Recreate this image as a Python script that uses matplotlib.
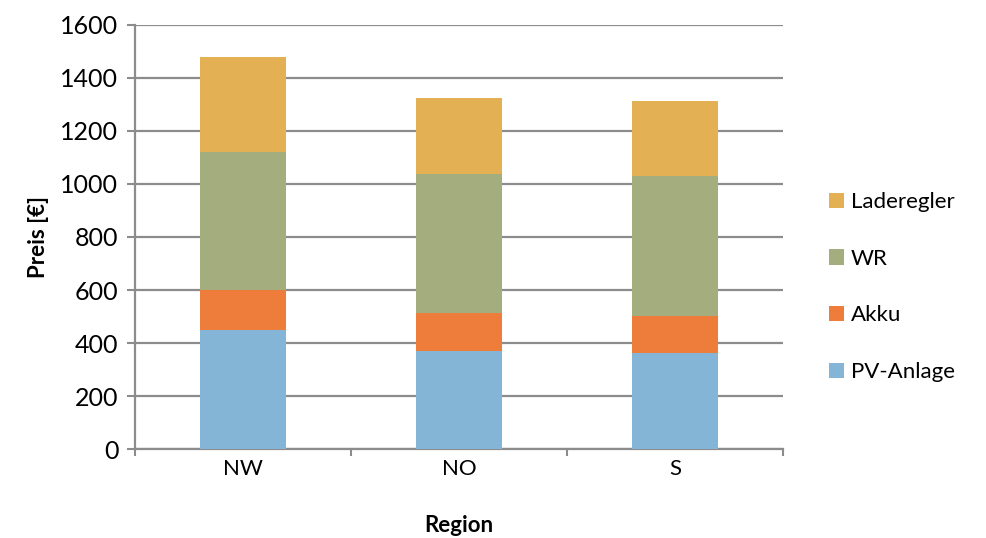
import numpy as np
import matplotlib.pyplot as plt

# Daten
regionen = ['NW', 'NO', 'S']
pv_anlage = [450, 369, 361]
akku = [151, 144, 143]
wr = [521, 526, 527]
laderegler = [355, 284, 280]

plt.rcParams['font.family'] = ['Lato', 'DejaVu Sans']

fig = plt.figure(figsize=(9.86, 5.38), dpi=100)
ax = fig.add_axes([0.137, 0.165, 0.657, 0.789])

x = np.arange(len(regionen))
breite = 0.4
serien = [('PV-Anlage', pv_anlage, '#84B5D6'),
          ('Akku', akku, '#EE7D3C'),
          ('WR', wr, '#A3AD7E'),
          ('Laderegler', laderegler, '#E3B154')]

unten = np.zeros(len(regionen))
for name, werte, farbe in serien:
    ax.bar(x, werte, breite, bottom=unten, color=farbe, label=name, zorder=3)
    unten = unten + np.array(werte)

ax.set_ylim(0, 1600)
ax.set_xlim(-0.5, 2.5)
ax.set_yticks(range(0, 1601, 200))
ax.set_xticks(x)
ax.set_xticklabels(regionen)
ax.set_xticks([-0.5, 0.5, 1.5, 2.5], minor=True)
ax.tick_params(axis='x', which='major', length=0, labelsize=16, pad=7)
ax.tick_params(axis='x', which='minor', length=5, width=1.5, color='#8c8c8c', direction='out')
ax.tick_params(axis='y', length=6, width=1.5, color='#8c8c8c', labelsize=18, pad=6)

ax.yaxis.grid(True, color='#8c8c8c', linewidth=1.6, zorder=0)
ax.set_axisbelow(True)
for s in ['top', 'right']:
    ax.spines[s].set_visible(False)
for s in ['left', 'bottom']:
    ax.spines[s].set_color('#8c8c8c')
    ax.spines[s].set_linewidth(1.6)

ax.set_ylabel('Preis [€]', fontsize=16, fontweight='bold', labelpad=8)
ax.set_xlabel('Region', fontsize=16, fontweight='bold', labelpad=26)

handles, labels = ax.get_legend_handles_labels()
ax.legend(handles[::-1], labels[::-1], loc='center left', bbox_to_anchor=(1.04, 0.382),
          frameon=False, fontsize=16, handlelength=0.7, handleheight=0.7,
          handletextpad=0.3, labelspacing=1.65)

fig.savefig('out.png', dpi=100)
